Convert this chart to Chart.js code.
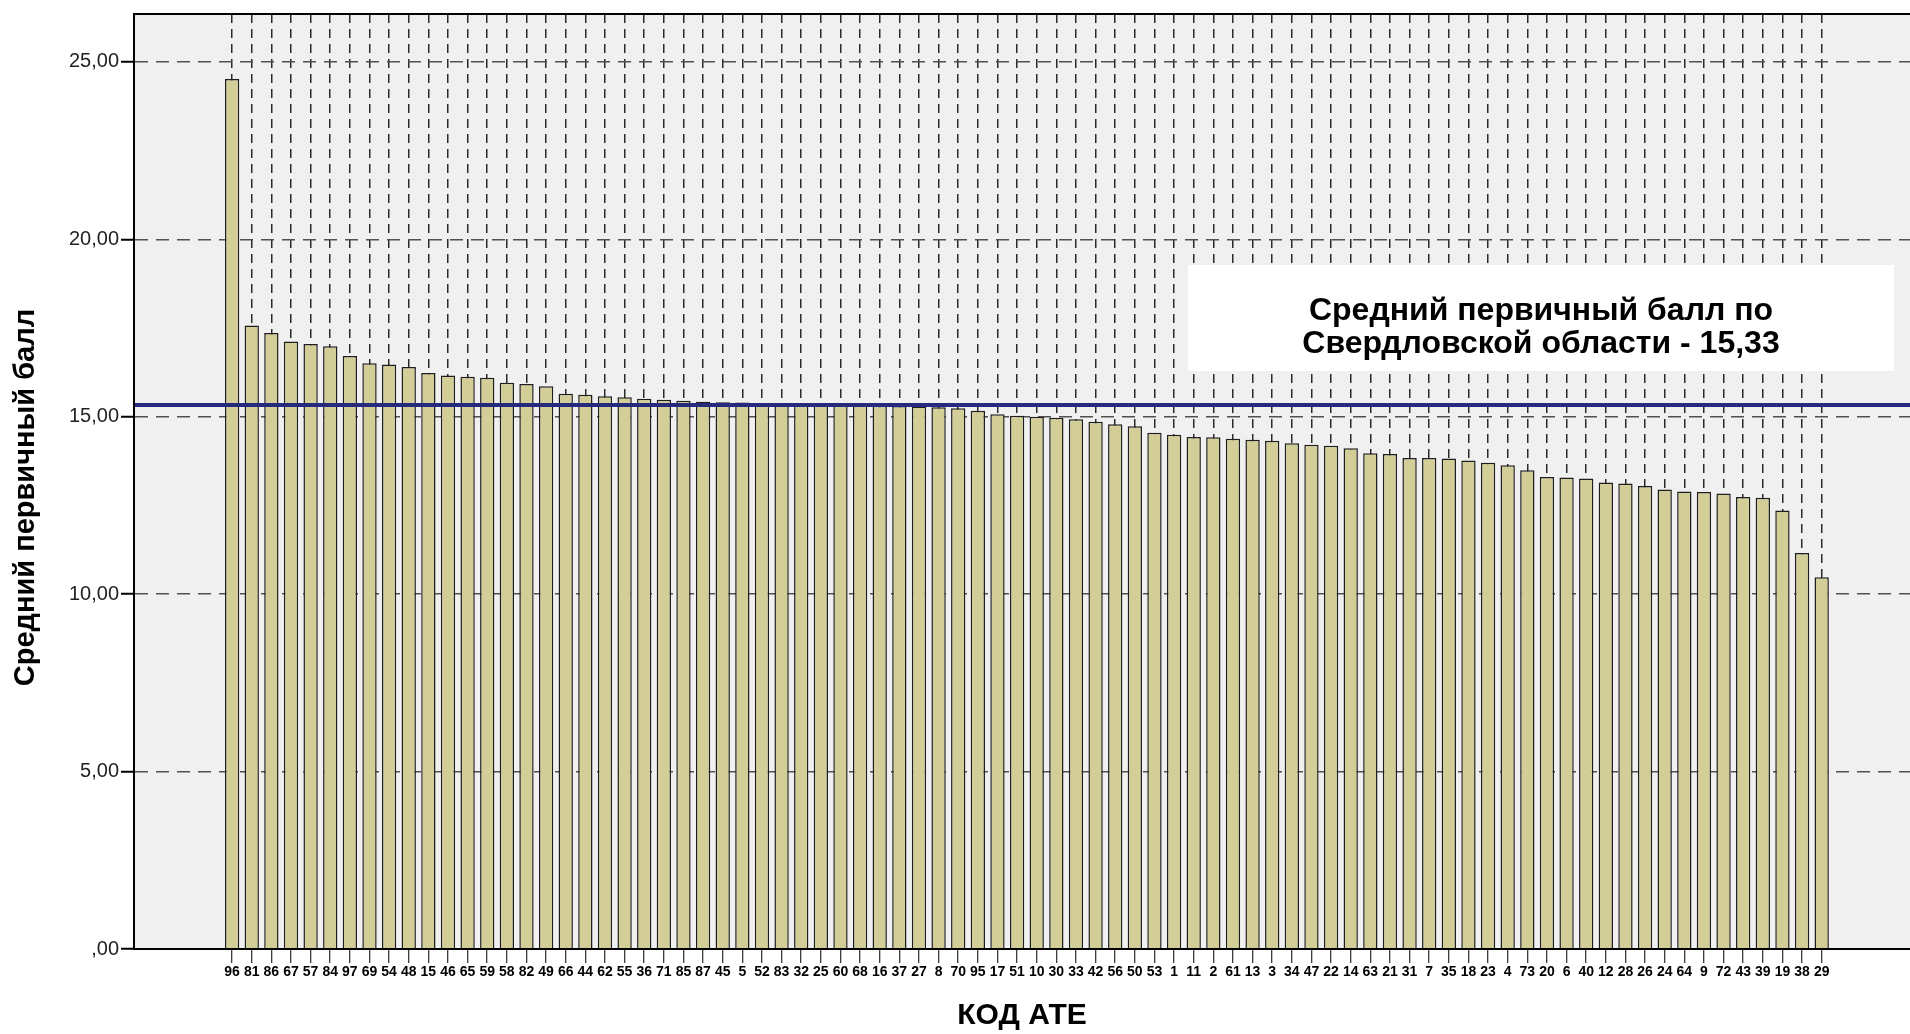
<!DOCTYPE html>
<html>
<head>
<meta charset="utf-8">
<script src="https://cdn.jsdelivr.net/npm/chart.js@4.4.1/dist/chart.umd.min.js"></script>
<style>
  html, body { margin: 0; padding: 0; background: #fff; }
  canvas { display: block; }
</style>
</head>
<body>
<canvas id="myChart" width="1910" height="1034"></canvas>
<script>
/* data */
const ateCodes = [
  96, 81, 86, 67, 57, 84, 97, 69, 54, 48,
  15, 46, 65, 59, 58, 82, 49, 66, 44, 62,
  55, 36, 71, 85, 87, 45, 5, 52, 83, 32,
  25, 60, 68, 16, 37, 27, 8, 70, 95, 17,
  51, 10, 30, 33, 42, 56, 50, 53, 1, 11,
  2, 61, 13, 3, 34, 47, 22, 14, 63, 21,
  31, 7, 35, 18, 23, 4, 73, 20, 6, 40,
  12, 28, 26, 24, 64, 9, 72, 43, 39, 19,
  38, 29
];

const meanScores = [
  24.52, 17.57, 17.36, 17.12, 17.05, 16.99, 16.71, 16.51, 16.47, 16.40,
  16.23, 16.16, 16.13, 16.10, 15.96, 15.92, 15.86, 15.65, 15.62, 15.58,
  15.55, 15.51, 15.48, 15.45, 15.42, 15.41, 15.40, 15.38, 15.36, 15.35,
  15.34, 15.33, 15.32, 15.31, 15.30, 15.29, 15.27, 15.24, 15.17, 15.07,
  15.03, 15.00, 14.97, 14.93, 14.86, 14.79, 14.73, 14.55, 14.49, 14.43,
  14.42, 14.38, 14.35, 14.32, 14.25, 14.21, 14.18, 14.11, 13.97, 13.95,
  13.84, 13.84, 13.82, 13.77, 13.70, 13.63, 13.49, 13.30, 13.29, 13.26,
  13.15, 13.12, 13.05, 12.95, 12.89, 12.88, 12.84, 12.74, 12.72, 12.36,
  11.16, 10.48
];

const regionMean = 15.33;
const yTickValues = [0, 5, 10, 15, 20, 25];
const noteLines = ['Средний первичный балл по', 'Свердловской области - 15,33'];

const fmt = v => (v === 0 ? ',00' : v.toFixed(2).replace('.', ','));

/* plot background, mean line, note box, frame */
const decor = {
  id: 'decor',
  beforeDraw(chart) {
    const {ctx, chartArea: a} = chart;
    ctx.save();
    ctx.fillStyle = '#ffffff';
    ctx.fillRect(0, 0, chart.width, chart.height);
    ctx.fillStyle = '#f0f0f0';
    ctx.fillRect(a.left, a.top, a.right - a.left, a.bottom - a.top);
    ctx.restore();
  },
  afterDatasetsDraw(chart) {
    const {ctx, chartArea: a, scales} = chart;
    ctx.save();
    // mean line
    const my = scales.y.getPixelForValue(regionMean);
    ctx.strokeStyle = '#262a7c';
    ctx.lineWidth = 4;
    ctx.beginPath();
    ctx.moveTo(a.left, my);
    ctx.lineTo(a.right, my);
    ctx.stroke();

    // note box
    ctx.fillStyle = '#ffffff';
    ctx.fillRect(1188, 265, 706, 106);
    ctx.fillStyle = '#000';
    ctx.font = 'bold 32px "Liberation Sans", Arial, sans-serif';
    ctx.textAlign = 'center';
    ctx.textBaseline = 'middle';
    ctx.fillText(noteLines[0], 1541, 311);
    ctx.fillText(noteLines[1], 1541, 344);

    // frame
    ctx.strokeStyle = '#000';
    ctx.lineWidth = 2;
    ctx.strokeRect(a.left, a.top, a.right - a.left + 4, a.bottom - a.top);
    ctx.restore();
  }
};

const ctx = document.getElementById('myChart').getContext('2d');
const myChart = new Chart(ctx, {
  type: 'bar',
  data: {
    datasets: [{
      data: ateCodes.map((c, i) => ({x: i, y: meanScores[i]})),
      backgroundColor: '#d3ce97',
      borderColor: '#1e1e1e',
      borderWidth: 1.5,
      barPercentage: 0.73,
      categoryPercentage: 1
    }]
  },
  options: {
    responsive: false,
    devicePixelRatio: 1,
    animation: false,
    layout: { padding: { top: 10, right: 0, left: 0, bottom: 0 } },
    plugins: {
      legend: { display: false },
      tooltip: { enabled: false }
    },
    scales: {
      x: {
        type: 'linear',
        min: -5,
        max: 85.5,
        offset: false,
        afterBuildTicks: s => { s.ticks = ateCodes.map((c, i) => ({value: i})); },
        afterFit: s => { s.height = 85; },
        ticks: {
          autoSkip: false,
          maxRotation: 0,
          padding: 1,
          color: '#000',
          font: { family: '"Liberation Sans", Arial, sans-serif', size: 14, weight: 'bold' },
          callback: v => String(ateCodes[v])
        },
        grid: {
          offset: false,
          color: '#2a2a2a',
          lineWidth: 1.5,
          tickLength: 14,
          tickColor: '#000',
          tickWidth: 1,
          tickBorderDash: []
        },
        border: { display: true, color: '#000', width: 2, dash: [9, 6] },
        title: {
          display: true,
          text: 'КОД АТЕ',
          color: '#000',
          padding: { top: 0, bottom: 0 },
          font: { family: '"Liberation Sans", Arial, sans-serif', size: 30, weight: 'bold' }
        }
      },
      y: {
        min: 0,
        max: 26.35,
        afterBuildTicks: s => { s.ticks = yTickValues.map(v => ({value: v})); },
        afterFit: s => { s.width = 134; },
        ticks: {
          padding: 2,
          color: '#222',
          font: { family: '"Liberation Sans", Arial, sans-serif', size: 20 },
          callback: v => fmt(v)
        },
        grid: {
          color: '#505050',
          lineWidth: 1.5,
          tickLength: 13,
          tickColor: '#000',
          tickWidth: 2,
          tickBorderDash: []
        },
        border: { display: true, color: '#000', width: 2, dash: [13, 8] },
        title: {
          display: true,
          text: 'Средний первичный балл    ',
          color: '#000',
          padding: { top: 9, bottom: 0 },
          font: { family: '"Liberation Sans", Arial, sans-serif', size: 29, weight: 'bold' }
        }
      }
    }
  },
  plugins: [decor]
});
</script>
</body>
</html>
